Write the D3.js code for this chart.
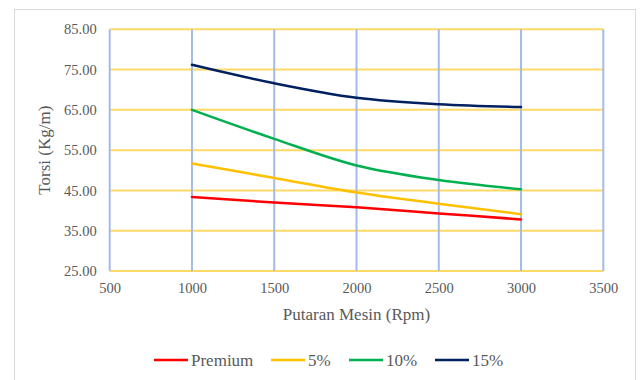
<!DOCTYPE html>
<html>
<head>
<meta charset="utf-8">
<script src="https://cdn.jsdelivr.net/npm/d3@7"></script>
<style>
  html, body { margin: 0; padding: 0; background: #ffffff; }
  svg { display: block; }
</style>
</head>
<body>
<svg id="chart" width="641" height="380"></svg>
<script>
// Engine speed (rpm) sampled for every fuel blend
const rpm = [1000, 1500, 2000, 2500, 3000];

// Torque readings (Kg/m) per fuel blend
const premium = [43.4, 42.0, 40.8, 39.3, 37.8];
const blend5  = [51.7, 48.1, 44.5, 41.7, 39.1];
const blend10 = [65.0, 57.8, 51.2, 47.6, 45.3];
const blend15 = [76.2, 71.6, 68.0, 66.4, 65.7];

const seriesNames  = ["Premium", "5%", "10%", "15%"];
const seriesColors = ["#ff0000", "#ffc000", "#00b050", "#002060"];

// Axis ticks
const xTicks = [500, 1000, 1500, 2000, 2500, 3000, 3500];
const yTicks = [25, 35, 45, 55, 65, 75, 85];

const series = [premium, blend5, blend10, blend15].map((vals, i) => ({
  name: seriesNames[i],
  color: seriesColors[i],
  points: rpm.map((r, j) => ({ x: r, y: vals[j] }))
}));

const svg = d3.select("#chart");
const font = "Liberation Serif";
const textColor = "#595959";

// Chart area frame
svg.append("rect")
  .attr("x", 14.5).attr("y", 9.5)
  .attr("width", 621).attr("height", 380)
  .attr("fill", "#ffffff")
  .attr("stroke", "#d9d9d9").attr("stroke-width", 1);

const x = d3.scaleLinear().domain([500, 3500]).range([109.7, 603.3]);
const y = d3.scaleLinear().domain([25, 85]).range([271, 29.3]);

// Horizontal gridlines
svg.append("g")
  .selectAll("line")
  .data(yTicks)
  .join("line")
  .attr("x1", x(500)).attr("x2", x(3500))
  .attr("y1", d => y(d)).attr("y2", d => y(d))
  .attr("stroke", "#ffd966").attr("stroke-width", 2);

// Vertical gridlines
svg.append("g")
  .selectAll("line")
  .data(xTicks)
  .join("line")
  .attr("x1", d => x(d)).attr("x2", d => x(d))
  .attr("y1", y(85)).attr("y2", y(25))
  .attr("stroke", "#a4bbe6").attr("stroke-width", 2);

// Y tick labels
const yAxis = d3.axisLeft(y).tickValues(yTicks).tickFormat(d3.format(".2f")).tickSize(0).tickPadding(13);
const gy = svg.append("g").attr("transform", `translate(${x(500)},0)`).call(yAxis);
gy.attr("font-family", font).attr("font-size", 14.5);
gy.select(".domain").remove();
gy.selectAll("text")
  .style("font-family", font).style("font-size", "14.5px").attr("fill", textColor);

// X tick labels
const xAxis = d3.axisBottom(x).tickValues(xTicks).tickFormat(d3.format("d")).tickSize(0).tickPadding(12);
const gx = svg.append("g").attr("transform", `translate(0,${y(25)})`).call(xAxis);
gx.attr("font-family", font).attr("font-size", 14.5);
gx.select(".domain").remove();
gx.selectAll("text")
  .style("font-family", font).style("font-size", "14.5px").attr("fill", textColor);

// Axis titles
svg.append("text")
  .attr("transform", `translate(50,${(y(85) + y(25)) / 2}) rotate(-90)`)
  .attr("text-anchor", "middle")
  .style("font-family", font).style("font-size", "17px").attr("fill", textColor)
  .text("Torsi (Kg/m)");

svg.append("text")
  .attr("x", (x(500) + x(3500)) / 2).attr("y", 320)
  .attr("text-anchor", "middle")
  .style("font-family", font).style("font-size", "17px").attr("fill", textColor)
  .text("Putaran Mesin (Rpm)");

// Smoothed series lines
const line = d3.line()
  .x(d => x(d.x)).y(d => y(d.y))
  .curve(d3.curveCatmullRom.alpha(0.5));

svg.append("g")
  .selectAll("path")
  .data(series)
  .join("path")
  .attr("d", d => line(d.points))
  .attr("fill", "none")
  .attr("stroke", d => d.color)
  .attr("stroke-width", 2.5)
  .attr("stroke-linecap", "round");

// Legend
const legendX = [154, 271, 349, 435];
const legend = svg.append("g")
  .selectAll("g")
  .data(series)
  .join("g")
  .attr("transform", (d, i) => `translate(${legendX[i]},360)`);
legend.append("line")
  .attr("x1", 0).attr("x2", 34).attr("y1", 0).attr("y2", 0)
  .attr("stroke", d => d.color).attr("stroke-width", 2.5);
legend.append("text")
  .attr("x", 37).attr("y", 5.5)
  .style("font-family", font).style("font-size", "17px").attr("fill", textColor)
  .text(d => d.name);
</script>
</body>
</html>
